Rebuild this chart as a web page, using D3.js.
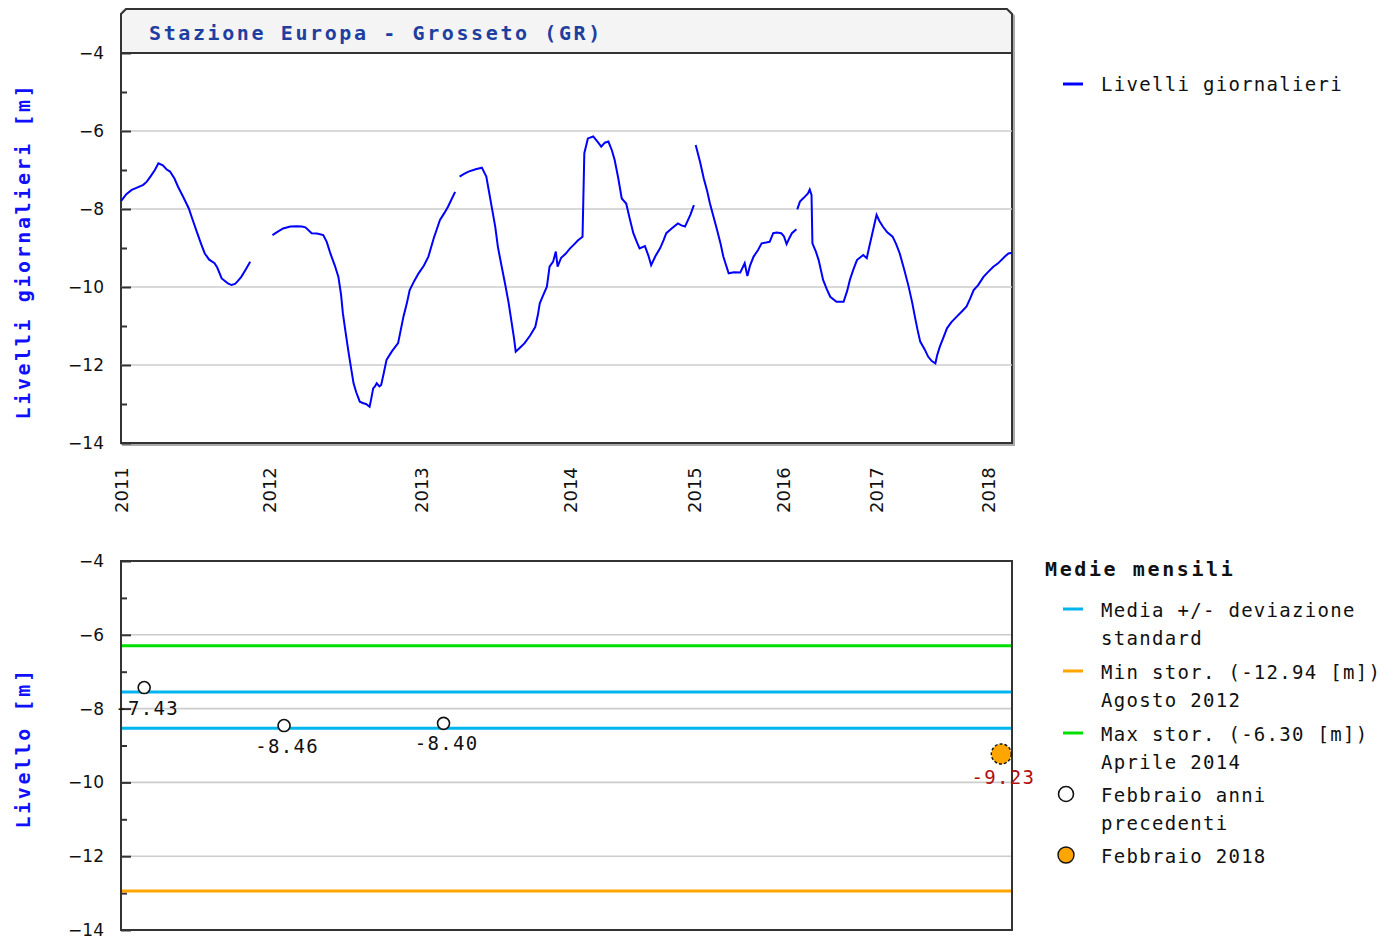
<!DOCTYPE html>
<html><head><meta charset="utf-8">
<script src="https://cdn.jsdelivr.net/npm/d3@7"></script>
<style>
html,body{margin:0;padding:0;background:#fff;}
svg{display:block;}
</style>
</head><body>
<svg id="chart" width="1397" height="943"></svg>
<script>
// ---------------- DATA ----------------
const chartTitle = "Stazione Europa - Grosseto (GR)";
const yTitleTop = "Livelli giornalieri [m]";
const yTitleBottom = "Livello [m]";
const seriesName = "Livelli giornalieri";

// x is the sample position (0..1000) along the record
const yearLabels = ["2011","2012","2013","2014","2015","2016","2017","2018"];
const yearIdx    = [0, 167, 337, 505, 644, 744, 848, 974];

// daily levels [sample position, level m], split where data are missing
const seg1 = [[0,-7.80],[6,-7.62],[12,-7.51],[18,-7.45],[25,-7.38],[29,-7.30],[33,-7.17],[38,-7.00],[42,-6.83],[47,-6.88],[51,-6.98],[55,-7.04],[60,-7.22],[64,-7.43],[70,-7.70],[76,-7.98],[80,-8.25],[85,-8.58],[90,-8.90],[94,-9.14],[99,-9.30],[105,-9.39],[108,-9.50],[113,-9.78],[117,-9.85],[120,-9.91],[124,-9.95],[128,-9.92],[131,-9.85],[135,-9.74],[140,-9.55],[145,-9.35]];
const seg2 = [[170,-8.67],[176,-8.58],[182,-8.50],[190,-8.45],[197,-8.44],[203,-8.45],[207,-8.47],[214,-8.62],[220,-8.63],[227,-8.67],[231,-8.85],[235,-9.14],[240,-9.45],[244,-9.74],[247,-10.20],[249,-10.67],[252,-11.15],[255,-11.62],[258,-12.05],[261,-12.47],[264,-12.70],[268,-12.94],[272,-12.98],[275,-13.00],[279,-13.07],[281,-12.85],[283,-12.60],[285,-12.55],[287,-12.47],[290,-12.55],[292,-12.51],[295,-12.20],[298,-11.87],[304,-11.65],[311,-11.44],[314,-11.10],[317,-10.76],[321,-10.40],[324,-10.08],[329,-9.85],[334,-9.65],[340,-9.45],[345,-9.22],[351,-8.75],[358,-8.28],[363,-8.10],[367,-7.94],[371,-7.75],[375,-7.56]];
const seg3 = [[380,-7.17],[385,-7.10],[390,-7.04],[398,-6.98],[405,-6.94],[410,-7.17],[413,-7.55],[416,-7.94],[420,-8.45],[423,-8.97],[427,-9.45],[431,-9.91],[435,-10.40],[438,-10.85],[441,-11.30],[443,-11.66],[448,-11.55],[453,-11.44],[459,-11.25],[465,-11.02],[468,-10.70],[470,-10.42],[474,-10.20],[478,-9.99],[481,-9.48],[485,-9.35],[488,-9.09],[490,-9.48],[494,-9.25],[499,-9.15],[504,-9.01],[508,-8.92],[513,-8.80],[518,-8.71],[520,-6.57],[524,-6.19],[530,-6.14],[535,-6.28],[539,-6.40],[543,-6.30],[547,-6.27],[551,-6.50],[554,-6.74],[558,-7.20],[562,-7.73],[567,-7.86],[571,-8.25],[575,-8.62],[579,-8.85],[582,-9.01],[588,-8.95],[592,-9.20],[595,-9.44],[600,-9.20],[605,-9.01],[609,-8.80],[612,-8.62],[618,-8.50],[625,-8.37],[629,-8.42],[633,-8.45],[639,-8.15],[643,-7.90]];
const seg4 = [[645,-6.36],[650,-6.80],[654,-7.21],[658,-7.55],[661,-7.86],[665,-8.20],[669,-8.54],[673,-8.90],[676,-9.22],[682,-9.65],[688,-9.62],[695,-9.63],[700,-9.39],[703,-9.72],[706,-9.45],[710,-9.22],[715,-9.05],[719,-8.88],[724,-8.86],[728,-8.84],[732,-8.62],[736,-8.60],[741,-8.62],[744,-8.70],[747,-8.90],[750,-8.75],[753,-8.62],[758,-8.52]];
const seg5 = [[759,-8.01],[762,-7.81],[766,-7.72],[771,-7.60],[773,-7.50],[775,-7.64],[776,-8.88],[780,-9.10],[783,-9.31],[788,-9.82],[792,-10.05],[796,-10.25],[803,-10.38],[811,-10.38],[815,-10.10],[818,-9.82],[822,-9.55],[826,-9.31],[833,-9.18],[837,-9.26],[840,-8.95],[842,-8.75],[845,-8.45],[848,-8.15],[851,-8.30],[855,-8.45],[860,-8.60],[866,-8.71],[870,-8.90],[874,-9.14],[879,-9.55],[884,-9.99],[888,-10.40],[891,-10.76],[894,-11.10],[897,-11.40],[902,-11.60],[906,-11.79],[910,-11.90],[914,-11.96],[916,-11.75],[919,-11.53],[923,-11.30],[927,-11.06],[932,-10.90],[938,-10.76],[944,-10.62],[949,-10.50],[953,-10.30],[957,-10.08],[962,-9.95],[968,-9.74],[973,-9.62],[979,-9.48],[984,-9.40],[988,-9.31],[992,-9.22],[996,-9.14],[1000,-9.12]];
const dailySegments = [seg1, seg2, seg3, seg4, seg5];

// monthly (February) means
const febIdx    = [26, 183, 362];
const febValues = [-7.43, -8.46, -8.40];
const curIdx = 988, curValue = -9.23;
const stdLines = [-7.55, -8.53];
const minStor = -12.94, maxStor = -6.30;

const yTicksMajor = [-14,-12,-10,-8,-6,-4];
const yTicksMinor = [-13,-11,-9,-7,-5];

const legendBottom = [
  {type:"line", color:"#00b4ee", lines:["Media +/- deviazione","standard"]},
  {type:"line", color:"#ffa500", lines:["Min stor. (-12.94 [m])","Agosto 2012"]},
  {type:"line", color:"#00e000", lines:["Max stor. (-6.30 [m])","Aprile 2014"]},
  {type:"open", color:"#fff", lines:["Febbraio anni","precedenti"]},
  {type:"fill", color:"#ffa500", lines:["Febbraio 2018"]}
];

// ---------------- LAYOUT ----------------
const L = 121, R = 1012;
const top1 = {frameTop: 9, plotTop: 53, plotBottom: 443};
const top2 = {plotTop: 561, plotBottom: 930};
const MONO = "'DejaVu Sans Mono', monospace";
const SANS = "'DejaVu Sans', sans-serif";

const svg = d3.select("#chart");
const x = d3.scaleLinear().domain([0, 1000]).range([L, R]);
const y1 = d3.scaleLinear().domain([-14, -4]).range([top1.plotBottom, top1.plotTop]);
const y2 = d3.scaleLinear().domain([-14, -4]).range([top2.plotBottom, top2.plotTop]);

function minus(v){ return String(v).replace("-", "\u2212"); }

// ----- top frame with title band -----
const c = 5;
const framePath = `M${L},${top1.plotBottom} L${L},${top1.frameTop + c} L${L + c},${top1.frameTop} L${R - c},${top1.frameTop} L${R},${top1.frameTop + c} L${R},${top1.plotBottom} Z`;
svg.append("path").attr("d", framePath).attr("transform","translate(2,2)")
  .attr("fill","none").attr("stroke","#aaa").attr("stroke-width",2);
svg.append("path").attr("d", framePath).attr("fill","#fff");
svg.append("rect").attr("x",L).attr("y",top1.frameTop).attr("width",R-L).attr("height",top1.plotTop-top1.frameTop)
  .attr("fill","#f4f4f4");
svg.append("path").attr("d", framePath).attr("fill","none").attr("stroke","#333").attr("stroke-width",2);

svg.append("text").attr("x",149).attr("y",40).text(chartTitle)
  .attr("font-family",MONO).attr("font-weight","bold").attr("font-size",20)
  .attr("letter-spacing","2.6px").attr("fill","#1f3fa0");

function drawAxisY(y){
  const g = svg.append("g");
  g.selectAll("line.grid").data(yTicksMajor.filter(v => v > -14 && v < -4)).enter().append("line")
    .attr("x1",L).attr("x2",R).attr("y1",d=>y(d)).attr("y2",d=>y(d))
    .attr("stroke","#cccccc").attr("stroke-width",1.6);
  const axMaj = d3.axisLeft(y).tickValues(yTicksMajor).tickSize(-10).tickFormat(d => minus(d)).tickPadding(17);
  const ga = g.append("g").attr("transform",`translate(${L},0)`).call(axMaj);
  ga.select(".domain").remove();
  ga.selectAll("line").attr("stroke","#333").attr("stroke-width",2);
  ga.selectAll("text").attr("font-family",SANS).attr("font-size",17).attr("fill","#111");
  const axMin = d3.axisLeft(y).tickValues(yTicksMinor).tickSize(-6).tickFormat("");
  const gm = g.append("g").attr("transform",`translate(${L},0)`).call(axMin);
  gm.select(".domain").remove();
  gm.selectAll("line").attr("stroke","#333").attr("stroke-width",2);
  return g;
}

drawAxisY(y1);
svg.append("line").attr("x1",L).attr("x2",R).attr("y1",top1.plotTop).attr("y2",top1.plotTop)
  .attr("stroke","#333").attr("stroke-width",2);

// daily line
const line = d3.line().x(d => x(d[0])).y(d => y1(d[1]));
svg.append("g").selectAll("path").data(dailySegments).enter().append("path")
  .attr("d", line).attr("fill","none").attr("stroke","#0000ff").attr("stroke-width",2)
  .attr("stroke-linejoin","miter");

// x axis year labels (rotated)
const xa = d3.axisBottom(x).tickValues(yearIdx).tickSize(0).tickFormat((d,i) => yearLabels[i]);
const gx = svg.append("g").attr("transform",`translate(0,${top1.plotBottom})`).call(xa);
gx.select(".domain").remove();
gx.selectAll("text").attr("font-family",SANS).attr("font-size",18).attr("fill","#111")
  .attr("text-anchor","start").attr("dy",null).attr("y",0)
  .attr("transform","translate(6,70) rotate(-90)");

// y titles
svg.append("text").attr("transform",`translate(30,${(82+420)/2}) rotate(-90)`)
  .attr("text-anchor","middle").text(yTitleTop)
  .attr("font-family",MONO).attr("font-weight","bold").attr("font-size",20)
  .attr("letter-spacing","2.6px").attr("fill","#1010ff");

// top legend
svg.append("line").attr("x1",1063).attr("x2",1083).attr("y1",84).attr("y2",84)
  .attr("stroke","#0000ff").attr("stroke-width",3);
svg.append("text").attr("x",1101).attr("y",91).text(seriesName)
  .attr("font-family",MONO).attr("font-size",19).attr("letter-spacing","1.3px").attr("fill","#111");

// ----- bottom chart -----
svg.append("rect").attr("x",L).attr("y",top2.plotTop).attr("width",R-L).attr("height",top2.plotBottom-top2.plotTop)
  .attr("fill","#fff");
drawAxisY(y2);

const hl = [
  {v:maxStor, color:"#00e000"},
  {v:stdLines[0], color:"#00b4ee"},
  {v:stdLines[1], color:"#00b4ee"},
  {v:minStor, color:"#ffa500"}
];
svg.append("g").selectAll("line").data(hl).enter().append("line")
  .attr("x1",L).attr("x2",R).attr("y1",d=>y2(d.v)).attr("y2",d=>y2(d.v))
  .attr("stroke",d=>d.color).attr("stroke-width",3);

svg.append("rect").attr("x",L).attr("y",top2.plotTop).attr("width",R-L).attr("height",top2.plotBottom-top2.plotTop)
  .attr("fill","none").attr("stroke","#333").attr("stroke-width",2);

const pts = febIdx.map((d,i) => ({i:d, v:febValues[i]}));
const gp = svg.append("g");
gp.selectAll("circle").data(pts).enter().append("circle")
  .attr("cx",d=>x(d.i)).attr("cy",d=>y2(d.v)).attr("r",6)
  .attr("fill","#fff").attr("stroke","#111").attr("stroke-width",1.6);
gp.selectAll("text").data(pts).enter().append("text")
  .attr("x",d=>x(d.i)+3).attr("y",d=>y2(d.v)+27).attr("text-anchor","middle")
  .text(d=>d.v.toFixed(2))
  .attr("font-family",MONO).attr("font-size",19).attr("letter-spacing","1.3px").attr("fill","#111");

svg.append("circle").attr("cx",x(curIdx)).attr("cy",y2(curValue)).attr("r",10)
  .attr("fill","#ffa500").attr("stroke","#111").attr("stroke-width",1.4).attr("stroke-dasharray","3,2");
svg.append("text").attr("x",x(curIdx)+2).attr("y",y2(curValue)+30).attr("text-anchor","middle")
  .text(curValue.toFixed(2))
  .attr("font-family",MONO).attr("font-size",19).attr("letter-spacing","1.3px").attr("fill","#b01010");

svg.append("text").attr("transform",`translate(30,748) rotate(-90)`)
  .attr("text-anchor","middle").text(yTitleBottom)
  .attr("font-family",MONO).attr("font-weight","bold").attr("font-size",20)
  .attr("letter-spacing","2.6px").attr("fill","#1010ff");

// bottom legend
svg.append("text").attr("x",1045).attr("y",576).text("Medie mensili")
  .attr("font-family",MONO).attr("font-weight","bold").attr("font-size",20)
  .attr("letter-spacing","2.6px").attr("fill","#111");
const legYs = [609, 671, 733, 794, 855];
const lg = svg.append("g");
legendBottom.forEach((it, k) => {
  const yy = legYs[k];
  if (it.type === "line") {
    lg.append("line").attr("x1",1063).attr("x2",1083).attr("y1",yy).attr("y2",yy)
      .attr("stroke",it.color).attr("stroke-width",3);
  } else if (it.type === "open") {
    lg.append("circle").attr("cx",1066).attr("cy",yy).attr("r",7.5)
      .attr("fill","#fff").attr("stroke","#111").attr("stroke-width",1.6);
  } else {
    lg.append("circle").attr("cx",1066).attr("cy",yy).attr("r",8)
      .attr("fill",it.color).attr("stroke","#111").attr("stroke-width",1.4);
  }
  it.lines.forEach((t, j) => {
    lg.append("text").attr("x",1101).attr("y",yy + 8 + j*28).text(t)
      .attr("font-family",MONO).attr("font-size",19).attr("letter-spacing","1.3px").attr("fill","#111");
  });
});
</script>
</body></html>
